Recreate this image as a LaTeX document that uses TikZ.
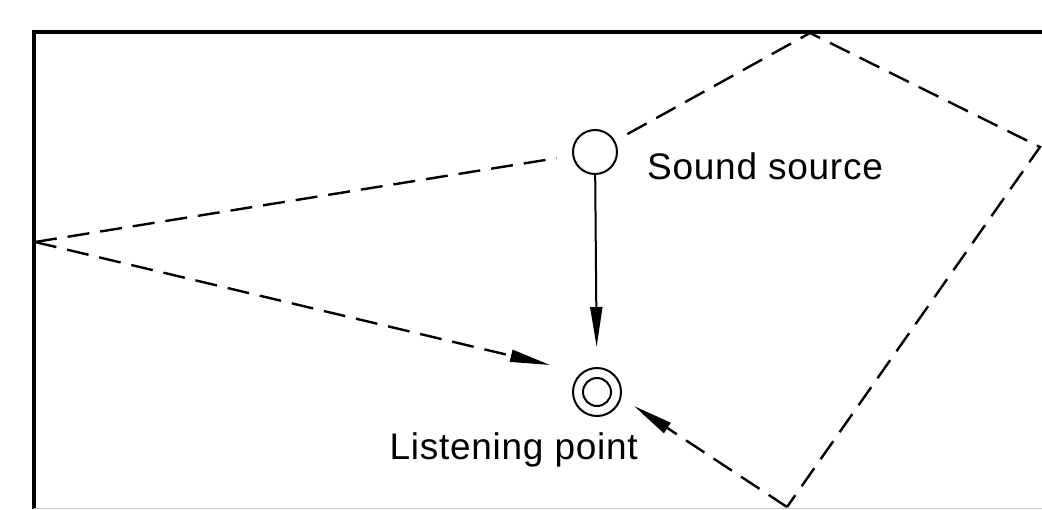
\documentclass[tikz,border=0pt]{standalone}
\usepackage{fontspec}
\setmainfont{Liberation Sans}[LetterSpace=2]
\usetikzlibrary{arrows.meta}
\begin{document}
\begin{tikzpicture}[x=1pt,y=-1pt,
  frame/.style={line width=3.5pt,black},
  ray/.style={line width=2.4pt,dash pattern=on 22pt off 11pt},
  direct/.style={line width=2pt},
  tip/.style={-{Triangle[length=40pt,width=12pt]}},
  ring/.style={circle,draw,line width=2pt,inner sep=0pt},
  lbl/.style={font=\fontsize{37}{40}\selectfont,inner sep=0pt}]
\useasboundingbox (0,0) rectangle (1042,509);
% frame
\coordinate (tl) at (34,32);
\coordinate (tr) at (1042,32);
\coordinate (bl) at (34,509);
\draw[frame] (tr) -- (tl) -- (bl);
\coordinate (bl2) at (34,508);
\coordinate (br2) at (1042,508);
\draw[gray!40,line width=1pt] (bl2) -- (br2);
% nodes
\node[ring,minimum size=44pt] (src) at (595,152) {};
\node[ring,minimum size=48pt] (lp) at (597,392) {};
\node[ring,minimum size=28pt] (lpin) at (597,392) {};
\node[lbl,anchor=base west] (srclbl) at (647,179) {Sound source};
\node[lbl,anchor=base east] (lplbl) at (638,459) {Listening point};
% reflection points
\coordinate (top) at (810,33);
\coordinate (right) at (1040,147);
\coordinate (bot) at (787,507);
\coordinate (left) at (35,242);
\coordinate (ltip) at (550,365);
\coordinate (btip) at (634,406);
% rays
\draw[ray,shorten <=14pt] (src) -- (top) -- (right) -- (bot);
\draw[ray,shorten >=16pt] (left) -- (src);
\draw[ray,tip] (left) -- (ltip);
\draw[ray,tip] (bot) -- (btip);
\draw[direct,tip,shorten >=20pt] (src) -- (lp);
\end{tikzpicture}
\end{document}
